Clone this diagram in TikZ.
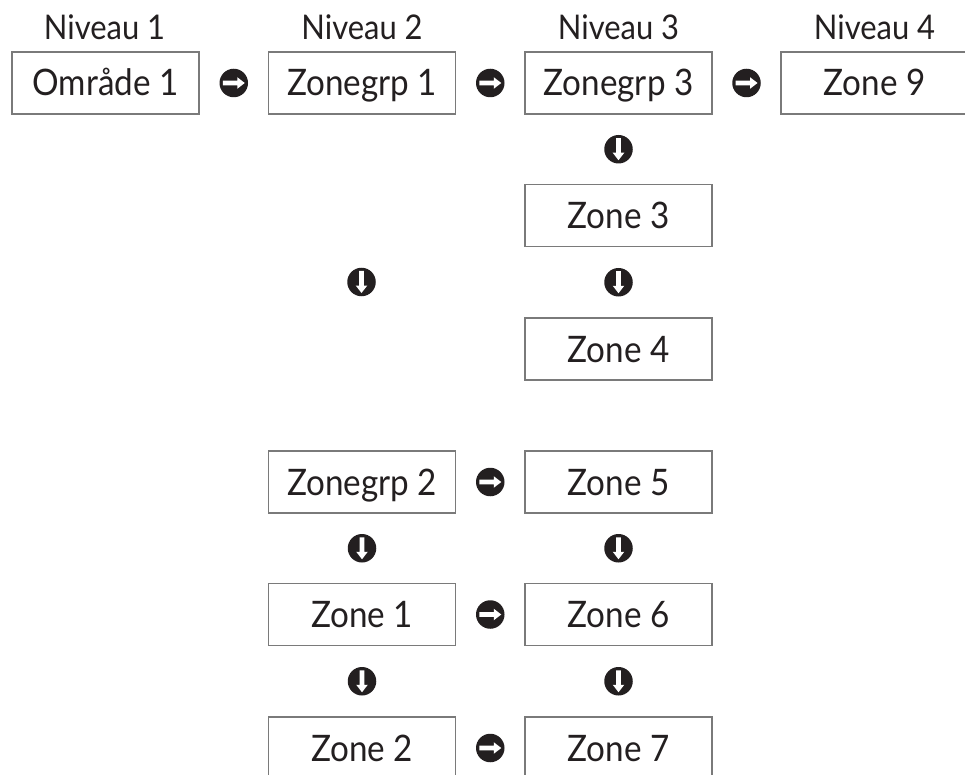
\documentclass[tikz,border=0pt]{standalone}
\usepackage{fontspec}
\setmainfont{Lato}[FakeStretch=0.91]
\usetikzlibrary{calc}
\definecolor{ink}{HTML}{231F20}
\definecolor{boxline}{HTML}{7A7A7A}
\begin{document}
\begin{tikzpicture}[x=1pt,y=-1pt,
  zbox/.style={draw=boxline, line width=1.4pt, minimum width=187pt, minimum height=62pt,
    inner sep=0pt, text=ink, font=\fontsize{36.5}{40}\selectfont,
    text height=26pt, text depth=-1pt},
  lvl/.style={text=ink, font=\fontsize{34}{40}\selectfont, anchor=base, inner sep=0pt},
  rarr/.style={circle, fill=ink, minimum size=28.5pt, inner sep=0pt,
    path picture={\fill[white, shift={(path picture bounding box.center)}]
      (-11,-2.4) -- (3.5,-2.4) -- (3.5,-5.8) -- (11,0) -- (3.5,5.8) -- (3.5,2.4) -- (-11,2.4) -- cycle;}},
  darr/.style={circle, fill=ink, minimum size=28.5pt, inner sep=0pt,
    path picture={\fill[white, shift={(path picture bounding box.center)}]
      (-2.4,-11) -- (-2.4,3.5) -- (-5.8,3.5) -- (0,11) -- (5.8,3.5) -- (2.4,3.5) -- (2.4,-11) -- cycle;}}
]
\clip (0,0) rectangle (965,775);
\fill[white] (0,0) rectangle (965,775);

% level labels
\node[lvl] (l1) at (104.5,40) {Niveau 1};
\node[lvl] (l2) at (362,40) {Niveau 2};
\node[lvl] (l3) at (618.5,40) {Niveau 3};
\node[lvl] (l4) at (874.5,40) {Niveau 4};

% boxes
\node[zbox] (omr) at (105.5,83) {Område 1};
\node[zbox] (zg1) at (362,83) {Zonegrp 1};
\node[zbox] (zg3) at (618.5,83) {Zonegrp 3};
\node[zbox] (z9)  at (874.5,83) {Zone 9};
\node[zbox] (z3)  at (618.5,215.5) {Zone 3};
\node[zbox] (z4)  at (618.5,349) {Zone 4};
\node[zbox] (zg2) at (362,482) {Zonegrp 2};
\node[zbox] (z5)  at (618.5,482) {Zone 5};
\node[zbox] (z1)  at (362,614.5) {Zone 1};
\node[zbox] (z6)  at (618.5,614.5) {Zone 6};
\node[zbox] (z2)  at (362,748) {Zone 2};
\node[zbox] (z7)  at (618.5,748) {Zone 7};

% connector icons
\node[rarr] (a1) at ($(omr.east)!0.5!(zg1.west)$) {};
\node[rarr] (a2) at ($(zg1.east)!0.5!(zg3.west)$) {};
\node[rarr] (a3) at ($(zg3.east)!0.5!(z9.west)$) {};
\node[darr] (d1) at ($(zg3.south)!0.5!(z3.north)$) {};
\node[darr] (d2) at ($(z3.south)!0.5!(z4.north)$) {};
\node[darr] (d0) at (361.5,282) {};
\node[rarr] (a4) at ($(zg2.east)!0.5!(z5.west)$) {};
\node[rarr] (a5) at ($(z1.east)!0.5!(z6.west)$) {};
\node[rarr] (a6) at ($(z2.east)!0.5!(z7.west)$) {};
\node[darr] (d3) at ($(zg2.south)!0.5!(z1.north)$) {};
\node[darr] (d4) at ($(z1.south)!0.5!(z2.north)$) {};
\node[darr] (d5) at ($(z5.south)!0.5!(z6.north)$) {};
\node[darr] (d6) at ($(z6.south)!0.5!(z7.north)$) {};
\end{tikzpicture}
\end{document}
